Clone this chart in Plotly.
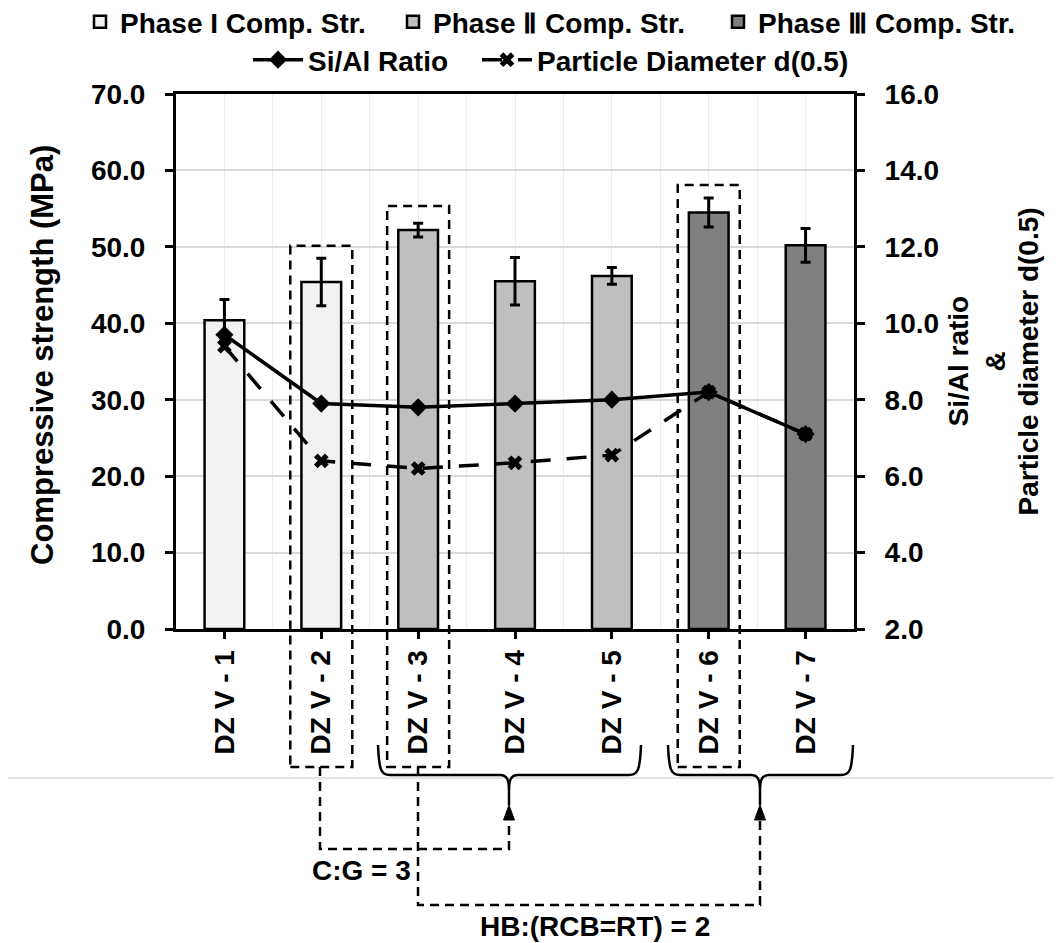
import plotly.graph_objects as go

# ---------------- data ----------------
categories = ["DZ V - 1", "DZ V - 2", "DZ V - 3", "DZ V - 4", "DZ V - 5", "DZ V - 6", "DZ V - 7"]
compressive = [40.4, 45.4, 52.2, 45.5, 46.2, 54.5, 50.2]
compressive_err = [2.7, 3.1, 0.9, 3.1, 1.1, 1.9, 2.2]
si_al_ratio = [9.7, 7.9, 7.8, 7.9, 8.0, 8.2, 7.1]
particle_d50 = [9.4, 6.4, 6.2, 6.35, 6.55, 8.2, 7.1]

phase_names = ["Phase I Comp. Str.", "Phase Ⅱ Comp. Str.", "Phase Ⅲ Comp. Str."]
phase_members = [[0, 1], [2, 3, 4], [5, 6]]
phase_colors = ["#f2f2f2", "#bfbfbf", "#808080"]

left_ticks = [0, 10, 20, 30, 40, 50, 60, 70]
right_ticks = [2, 4, 6, 8, 10, 12, 14, 16]

# ---------------- geometry helpers (page pixel -> paper) ----------------
OFF = 8  # default page body margin
W, H = 1062 - OFF, 943 - OFF
L, R, T, B = 176 - OFF, 208, 94 - OFF, 314
PW, PH = W - L - R, H - T - B


def px(x):
    return (x - OFF - L) / PW


def py(y):
    return (H - B - (y - OFF)) / PH


def cx(x):
    return (x - OFF) / W


def cy(y):
    return 1 - (y - OFF) / H


FONT = "Arial, Liberation Sans, sans-serif"
fig = go.Figure()

idx = list(range(len(categories)))
bar_legends = ["legend", "legend2", "legend3"]

for name, members, color, lg in zip(phase_names, phase_members, phase_colors, bar_legends):
    fig.add_trace(go.Bar(
        x=members,
        y=[compressive[i] for i in members],
        name=name,
        width=0.41,
        marker=dict(color=color, line=dict(color="black", width=2.5)),
        error_y=dict(type="data", array=[compressive_err[i] for i in members],
                     color="black", thickness=3, width=5),
        legend=lg, showlegend=True,
    ))

fig.add_trace(go.Scatter(
    x=idx, y=si_al_ratio, name="Si/Al Ratio", yaxis="y2",
    mode="lines+markers",
    line=dict(color="black", width=3.5),
    marker=dict(symbol="diamond", size=14, color="black"),
    legend="legend4", showlegend=True,
))
fig.add_trace(go.Scatter(
    x=idx, y=particle_d50, name="Particle Diameter d(0.5)", yaxis="y2",
    mode="lines+markers",
    line=dict(color="black", width=3.5, dash="20px,16px"),
    marker=dict(symbol="x", size=13, color="black"),
    legend="legend5", showlegend=True,
))

shapes = []
dash_line = dict(color="black", width=2.5, dash="9px,6px")

# dashed boxes around selected samples
box_specs = [(1, 245.7), (2, 206), (5, 185)]
for ci, top in box_specs:
    shapes.append(dict(type="rect", xref="x", yref="paper",
                       x0=ci - 0.32, x1=ci + 0.32, y0=py(767), y1=py(top),
                       line=dash_line, layer="above"))

# gray separator line
shapes.append(dict(type="line", xref="paper", yref="paper",
                   x0=px(0), x1=px(1062), y0=py(778), y1=py(778),
                   line=dict(color="#c8c8c8", width=1), layer="below"))


def P(x, y):
    return f"{px(x):.5f},{py(y):.5f}"


def brace(x0, x1, xc, ytop=745, yh=775, ytip=805):
    return (f"M {P(x0, ytop)} C {P(x0 + 1, yh - 5)} {P(x0 + 3, yh)} {P(x0 + 12, yh)} "
            f"L {P(xc - 9, yh)} C {P(xc - 2, yh)} {P(xc, yh + 5)} {P(xc, yh + 15)} L {P(xc, ytip)} "
            f"M {P(xc, ytip)} L {P(xc, yh + 15)} C {P(xc, yh + 5)} {P(xc + 2, yh)} {P(xc + 9, yh)} "
            f"L {P(x1 - 12, yh)} C {P(x1 - 3, yh)} {P(x1 - 1, yh - 5)} {P(x1, ytop)}")


for x0, x1, xc in [(378, 641, 509), (668, 853, 760)]:
    shapes.append(dict(type="path", xref="paper", yref="paper", path=brace(x0, x1, xc),
                       line=dict(color="black", width=2.5)))

# dashed connectors
shapes.append(dict(type="path", xref="paper", yref="paper",
                   path=f"M {P(320, 767)} L {P(320, 849)} L {P(509, 849)} L {P(509, 818)}",
                   line=dash_line))
shapes.append(dict(type="path", xref="paper", yref="paper",
                   path=f"M {P(418, 767)} L {P(418, 905)} L {P(760, 905)} L {P(760, 818)}",
                   line=dash_line))

# arrowheads
for xc in [509, 760]:
    shapes.append(dict(type="path", xref="paper", yref="paper",
                       path=f"M {P(xc, 805)} L {P(xc - 5.5, 820)} L {P(xc + 5.5, 820)} Z",
                       fillcolor="black", line=dict(color="black", width=1)))

annotations = [
    dict(text="C:G = 3", x=px(361), y=py(870)),
    dict(text="HB:(RCB=RT) = 2", x=px(595), y=py(926)),
    dict(text="Compressive strength (MPa)", x=px(42), y=py(355), textangle=-90, size=31),
    dict(text="Si/Al ratio", x=px(958), y=py(361.5), textangle=-90),
    dict(text="&", x=px(995), y=py(361.5), textangle=-90),
    dict(text="Particle diameter d(0.5)", x=px(1028), y=py(361.5), textangle=-90),
]
ann_list = []
for a in annotations:
    ann_list.append(dict(text=a["text"], x=a["x"], y=a["y"], xref="paper", yref="paper",
                         showarrow=False, xanchor="center", yanchor="middle",
                         textangle=a.get("textangle", 0),
                         font=dict(family=FONT, size=a.get("size", 28), color="black",
                                   weight="bold")))

tick_font = dict(family=FONT, size=28, color="black", weight="bold")
legend_font = dict(family=FONT, size=28, color="black", weight="bold")


def legend_at(xpix, ypix, itemwidth=30):
    return dict(orientation="h", xref="container", yref="container",
                x=cx(xpix), xanchor="left", y=cy(ypix), yanchor="middle",
                font=legend_font, bgcolor="rgba(0,0,0,0)", itemwidth=itemwidth)


fig.update_layout(
    width=W, height=H, autosize=False,
    showlegend=True,
    margin=dict(l=L, r=R, t=T, b=B, pad=0, autoexpand=False),
    paper_bgcolor="white", plot_bgcolor="white",
    barmode="overlay",
    font=dict(family=FONT, size=28, color="black", weight="bold"),
    xaxis=dict(
        range=[-0.5, len(categories) - 0.5],
        tickmode="array", tickvals=idx, ticktext=categories,
        tickangle=-90, tickfont=tick_font, automargin=False,
        ticks="outside", ticklen=7, tickwidth=2.5, tickcolor="black",
        showline=True, linecolor="black", linewidth=3, mirror=True,
        showgrid=True, gridcolor="#ececec", gridwidth=1,
        minor=dict(tickmode="array", tickvals=[i + 0.5 for i in idx[:-1]],
                   showgrid=True, gridcolor="#ececec", gridwidth=1, ticks=""),
        zeroline=False,
    ),
    yaxis=dict(
        range=[left_ticks[0], left_ticks[-1]], tickmode="array", tickvals=left_ticks,
        tickformat=".1f", tickfont=tick_font, automargin=False,
        ticks="outside", ticklen=8, tickwidth=2.5, tickcolor="black",
        ticklabelstandoff=14,
        showline=True, linecolor="black", linewidth=3,
        showgrid=True, gridcolor="#d9d9d9", gridwidth=1.5, zeroline=False,
    ),
    yaxis2=dict(
        overlaying="y", side="right", automargin=False,
        range=[right_ticks[0], right_ticks[-1]], tickmode="array", tickvals=right_ticks,
        tickformat=".1f", tickfont=tick_font,
        ticks="outside", ticklen=8, tickwidth=2.5, tickcolor="black",
        ticklabelstandoff=14,
        showline=True, linecolor="black", linewidth=3,
        showgrid=False, zeroline=False,
    ),
    legend=legend_at(80, 22),
    legend2=legend_at(393, 22),
    legend3=legend_at(718, 22),
    legend4=legend_at(248, 60, itemwidth=50),
    legend5=legend_at(477, 60, itemwidth=50),
    shapes=shapes,
    annotations=ann_list,
)

fig.write_html("out.html")
